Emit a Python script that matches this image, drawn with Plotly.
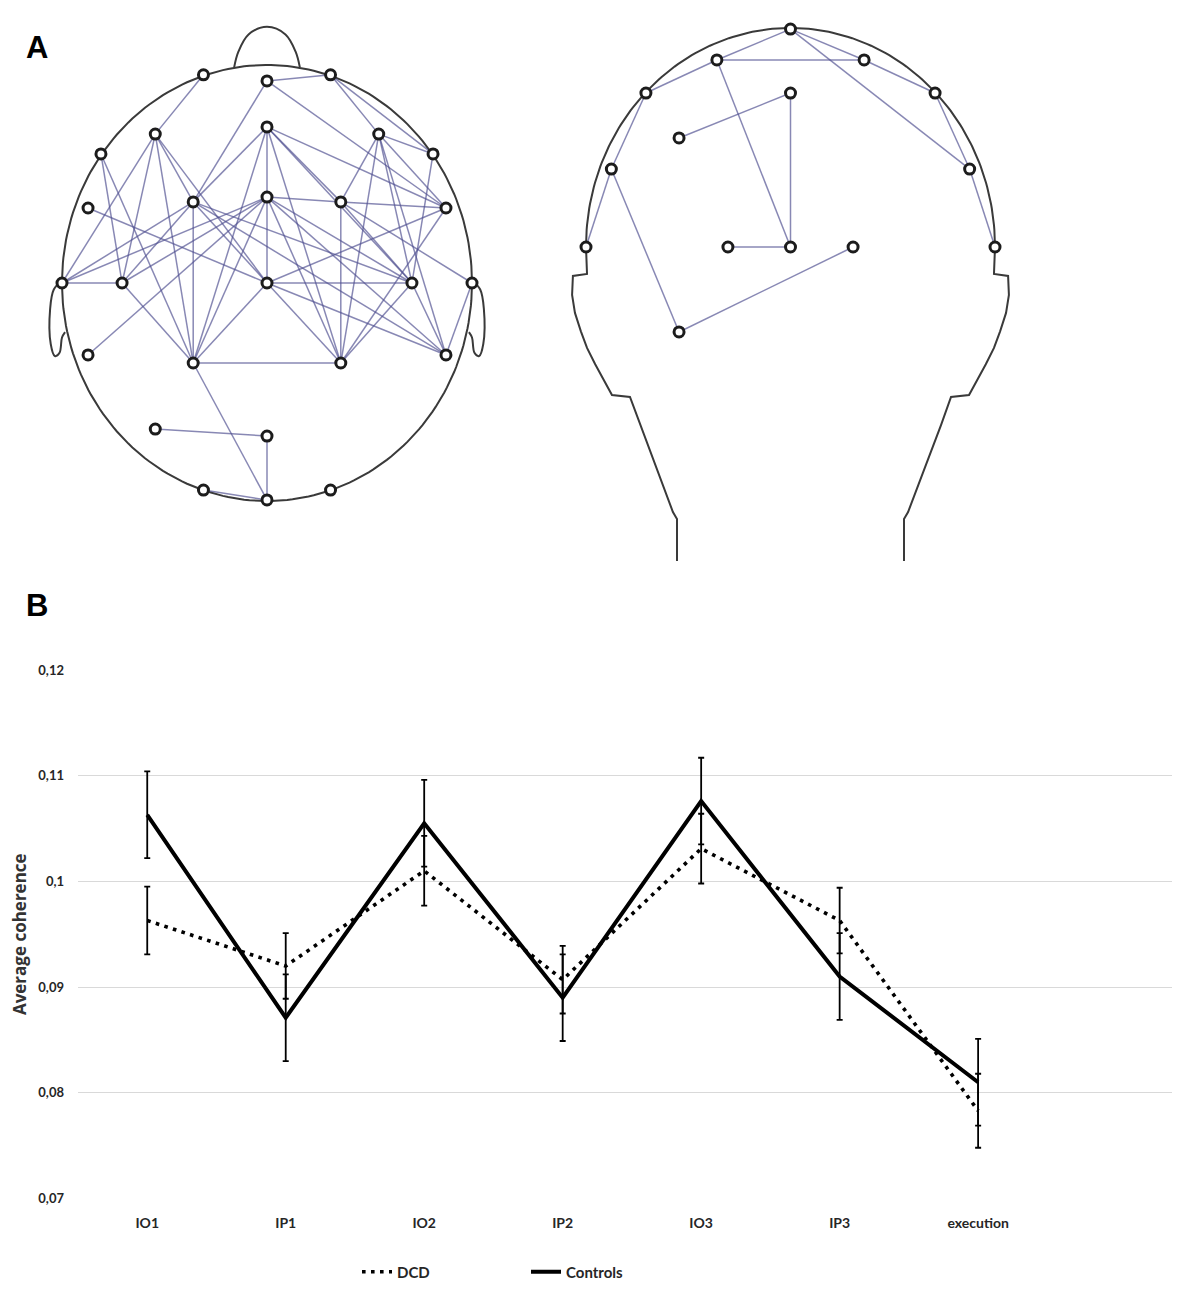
import numpy as np
import plotly.graph_objects as go

W, H = 1186, 1300
OFF = 8  # page body margin around the figure

# ---------------- panel A : coherence links between electrodes ----------------
# top view, head units (scalp circle = radius 1, nose up)
top_names = ["Fp1", "Fpz", "Fp2", "AF3", "AFz", "AF4", "F7", "F8", "FT7",
             "F3", "Fz", "F4", "FT8", "T7", "C3", "Cz", "C4", "T8",
             "TP7", "P3", "P4", "TP8", "PO3", "POz", "O1", "Oz", "O2"]
top_x = [-0.31, 0.0, 0.31, -0.545, 0.0, 0.545, -0.81, 0.81, -0.873,
         -0.36, 0.0, 0.36, 0.873, -1.0, -0.707, 0.0, 0.707, 1.0,
         -0.873, -0.36, 0.36, 0.873, -0.545, 0.0, -0.31, 0.0, 0.31]
top_y = [0.955, 0.927, 0.955, 0.683, 0.716, 0.683, 0.592, 0.592, 0.344,
         0.372, 0.394, 0.372, 0.344, 0.0, 0.0, 0.0, 0.0, 0.0,
         -0.33, -0.367, -0.367, -0.33, -0.67, -0.702, -0.95, -0.995, -0.95]
top_links = [
    ("Fp1", "AF3"), ("Fpz", "Fp2"), ("Fpz", "F3"), ("Fpz", "FT8"),
    ("Fp2", "AF4"), ("Fp2", "F8"), ("AFz", "F3"), ("AFz", "Fz"),
    ("AFz", "F4"), ("AFz", "FT8"), ("AFz", "C4"), ("AFz", "P3"),
    ("AFz", "P4"), ("AF4", "F8"), ("AF4", "FT8"), ("AF4", "F4"),
    ("AF4", "C4"), ("AF4", "P4"), ("AF4", "TP8"), ("F8", "C4"),
    ("F7", "C3"), ("F7", "P3"), ("AF3", "T7"), ("AF3", "C3"),
    ("AF3", "F3"), ("AF3", "P3"), ("AF3", "Cz"), ("FT7", "Cz"),
    ("T7", "C3"), ("T7", "F3"), ("T7", "Fz"), ("C3", "F3"),
    ("C3", "Fz"), ("C3", "P3"), ("F3", "P3"), ("F3", "Cz"),
    ("F3", "C4"), ("F3", "TP8"), ("Fz", "Cz"), ("Fz", "F4"),
    ("Fz", "P3"), ("Fz", "P4"), ("Fz", "C4"), ("Fz", "TP8"),
    ("TP7", "Fz"), ("F4", "FT8"), ("F4", "C4"), ("F4", "P4"),
    ("F4", "T8"), ("FT8", "Cz"), ("FT8", "P4"), ("Cz", "C4"),
    ("Cz", "P3"), ("Cz", "P4"), ("Cz", "TP8"), ("C4", "P4"),
    ("C4", "TP8"), ("T8", "TP8"), ("P3", "P4"), ("P3", "Oz"),
    ("PO3", "POz"), ("POz", "Oz"), ("O1", "Oz"),
]

# coronal view, head units
side_names = ["Cz", "C1", "C2", "C3", "CPz", "C4", "CP3", "C5", "C6",
              "T7", "P1", "Pz", "P2", "T8", "PO3"]
side_x = [0.0, -0.36, 0.36, -0.707, 0.0, 0.707, -0.545, -0.876, 0.876,
          -1.0, -0.306, 0.0, 0.306, 1.0, -0.545]
side_y = [0.995, 0.854, 0.854, 0.703, 0.703, 0.703, 0.498, 0.356, 0.356,
          0.0, 0.0, 0.0, 0.0, 0.0, -0.388]
side_links = [
    ("Cz", "C1"), ("Cz", "C2"), ("Cz", "C6"), ("C2", "C4"), ("C1", "C2"),
    ("C1", "C3"), ("C1", "Pz"), ("CPz", "Pz"), ("CPz", "CP3"), ("C3", "C5"),
    ("C5", "T7"), ("C5", "PO3"), ("PO3", "P2"), ("P1", "Pz"), ("C4", "C6"),
    ("C6", "T8"),
]

# ---------------- panel B : average coherence per condition ----------------
conditions = ["IO1", "IP1", "IO2", "IP2", "IO3", "IP3", "execution"]
dcd_mean = [0.0963, 0.0920, 0.1010, 0.0907, 0.1031, 0.0963, 0.0783]
dcd_err = [0.0032, 0.0031, 0.0033, 0.0032, 0.0033, 0.0031, 0.0035]
ctrl_mean = [0.1063, 0.0871, 0.1055, 0.0890, 0.1076, 0.0910, 0.0810]
ctrl_err = [0.0041, 0.0041, 0.0041, 0.0041, 0.0041, 0.0041, 0.0041]

OUTLINE = dict(color="#3a3a3a", width=2)
LINK = dict(color="rgba(80,80,145,0.68)", width=1.5)
NODE = dict(size=10, color="white", line=dict(color="#1c1c1c", width=3))


def fx(p):
    return (p - OFF) / W


def fy(p):
    return 1 - (p - OFF) / H


def head_axis(c, r, p0, p1, flip=False):
    # axis whose unit = head radius, placed on pixel span p0..p1
    if flip:   # vertical: pixels grow downwards
        rng = [(c - p1) / r, (c - p0) / r]
        dom = [fy(p1), fy(p0)]
    else:
        rng = [(p0 - c) / r, (p1 - c) / r]
        dom = [fx(p0), fx(p1)]
    return dict(domain=dom, range=rng, visible=False, fixedrange=True, automargin=False)


def links_trace(names, xs, ys, links, xa, ya):
    pos = dict(zip(names, zip(xs, ys)))
    lx, ly = [], []
    for a, b in links:
        lx += [pos[a][0], pos[b][0], None]
        ly += [pos[a][1], pos[b][1], None]
    return go.Scatter(x=lx, y=ly, mode="lines", line=LINK, xaxis=xa, yaxis=ya,
                      hoverinfo="skip", showlegend=False)


fig = go.Figure()

# --- top view head: scalp, nose, ears
t = np.linspace(0, 2 * np.pi, 240)
fig.add_trace(go.Scatter(x=np.cos(t), y=np.sin(t), mode="lines", line=OUTLINE,
                         xaxis="x", yaxis="y", hoverinfo="skip", showlegend=False))
nose_x = [-0.16, -0.14, -0.09, 0.0, 0.09, 0.14, 0.16]
nose_y = [0.99, 1.06, 1.14, 1.175, 1.14, 1.06, 0.99]
fig.add_trace(go.Scatter(x=nose_x, y=nose_y, mode="lines", line=dict(OUTLINE, shape="spline"),
                         xaxis="x", yaxis="y", hoverinfo="skip", showlegend=False))
ear_x = [-1.0, -1.04, -1.058, -1.055, -1.035, -1.012, -1.0, -0.985]
ear_y = [0.01, -0.03, -0.12, -0.28, -0.335, -0.32, -0.25, -0.225]
for side in (1, -1):
    fig.add_trace(go.Scatter(x=[side * v for v in ear_x], y=ear_y, mode="lines",
                             line=dict(OUTLINE, shape="spline"), xaxis="x", yaxis="y",
                             hoverinfo="skip", showlegend=False))
fig.add_trace(links_trace(top_names, top_x, top_y, top_links, "x", "y"))
fig.add_trace(go.Scatter(x=top_x, y=top_y, mode="markers", marker=NODE, text=top_names,
                         hoverinfo="text", xaxis="x", yaxis="y", showlegend=False))

# --- coronal view head: arc + neck
prof_x = [-1.0, -0.995, -1.064, -1.068, -1.054, -1.025, -0.995, -0.955, -0.917,
          -0.873, -0.785, -0.736, -0.653, -0.575, -0.555, -0.555]
prof_y = [0.0, -0.123, -0.132, -0.219, -0.301, -0.385, -0.461, -0.535, -0.603,
          -0.676, -0.685, -0.813, -1.018, -1.21, -1.242, -1.434]
a = np.linspace(np.pi, 0, 160)
ox = prof_x[::-1] + list(np.cos(a)) + [-v for v in prof_x]
oy = prof_y[::-1] + list(np.sin(a)) + prof_y
fig.add_trace(go.Scatter(x=ox, y=oy, mode="lines", line=OUTLINE, xaxis="x2", yaxis="y2",
                         hoverinfo="skip", showlegend=False))
fig.add_trace(links_trace(side_names, side_x, side_y, side_links, "x2", "y2"))
fig.add_trace(go.Scatter(x=side_x, y=side_y, mode="markers", marker=NODE, text=side_names,
                         hoverinfo="text", xaxis="x2", yaxis="y2", showlegend=False))

# --- line chart
fig.add_trace(go.Scatter(
    x=conditions, y=dcd_mean, name="DCD", mode="lines",
    line=dict(color="black", width=3.6, dash="3.6px,5.4px"),
    error_y=dict(type="data", array=dcd_err, color="black", thickness=1.8, width=3),
    xaxis="x3", yaxis="y3"))
fig.add_trace(go.Scatter(
    x=conditions, y=ctrl_mean, name="Controls", mode="lines",
    line=dict(color="black", width=4),
    error_y=dict(type="data", array=ctrl_err, color="black", thickness=1.8, width=3),
    xaxis="x3", yaxis="y3"))

tick_font = dict(family="Lato", size=13, color="#262626", weight="bold")

fig.update_layout(
    width=W, height=H,
    margin=dict(l=0, r=0, t=0, b=0, autoexpand=False),
    paper_bgcolor="white", plot_bgcolor="white",
    separators=",.",
    showlegend=True,
    xaxis=head_axis(267, 205, 10, 534),
    yaxis=head_axis(283, 218, 10, 545, flip=True),
    xaxis2=head_axis(790.5, 204.5, 540, 1041),
    yaxis2=head_axis(247, 219, 10, 570, flip=True),
    xaxis3=dict(domain=[fx(78), fx(1172)], range=[-0.5, 7.4], type="category",
                anchor="y3", automargin=False,
                showgrid=False, zeroline=False, showline=False, ticks="",
                tickfont=dict(tick_font, size=14), ticklabelstandoff=14, fixedrange=True),
    yaxis3=dict(domain=[fy(1198.5), fy(670)], range=[0.07, 0.12],
                anchor="x3", automargin=False,
                tick0=0.07, dtick=0.01, showgrid=True, gridcolor="#d9d9d9", gridwidth=1.3,
                zeroline=False, showline=False, ticks="", tickfont=tick_font,
                ticklabelstandoff=13, fixedrange=True,
                title=dict(text="Average coherence", standoff=13,
                           font=dict(family="Open Sans", size=17, color="#333333",
                                     weight="bold"))),
    legend=dict(orientation="h", x=fx(357), xanchor="left", y=fy(1272),
                yanchor="middle", font=dict(family="Lato", size=15, color="#262626",
                                            weight="bold"),
                entrywidth=124, entrywidthmode="pixels", bgcolor="rgba(0,0,0,0)"),
    annotations=[
        dict(text="<b>A</b>", x=fx(37), y=fy(47), xref="paper", yref="paper",
             xanchor="center", yanchor="middle", showarrow=False,
             font=dict(family="Liberation Sans", size=31, color="black")),
        dict(text="<b>B</b>", x=fx(37), y=fy(605), xref="paper", yref="paper",
             xanchor="center", yanchor="middle", showarrow=False,
             font=dict(family="Liberation Sans", size=31, color="black")),
    ],
)

fig.write_html("out.html")
